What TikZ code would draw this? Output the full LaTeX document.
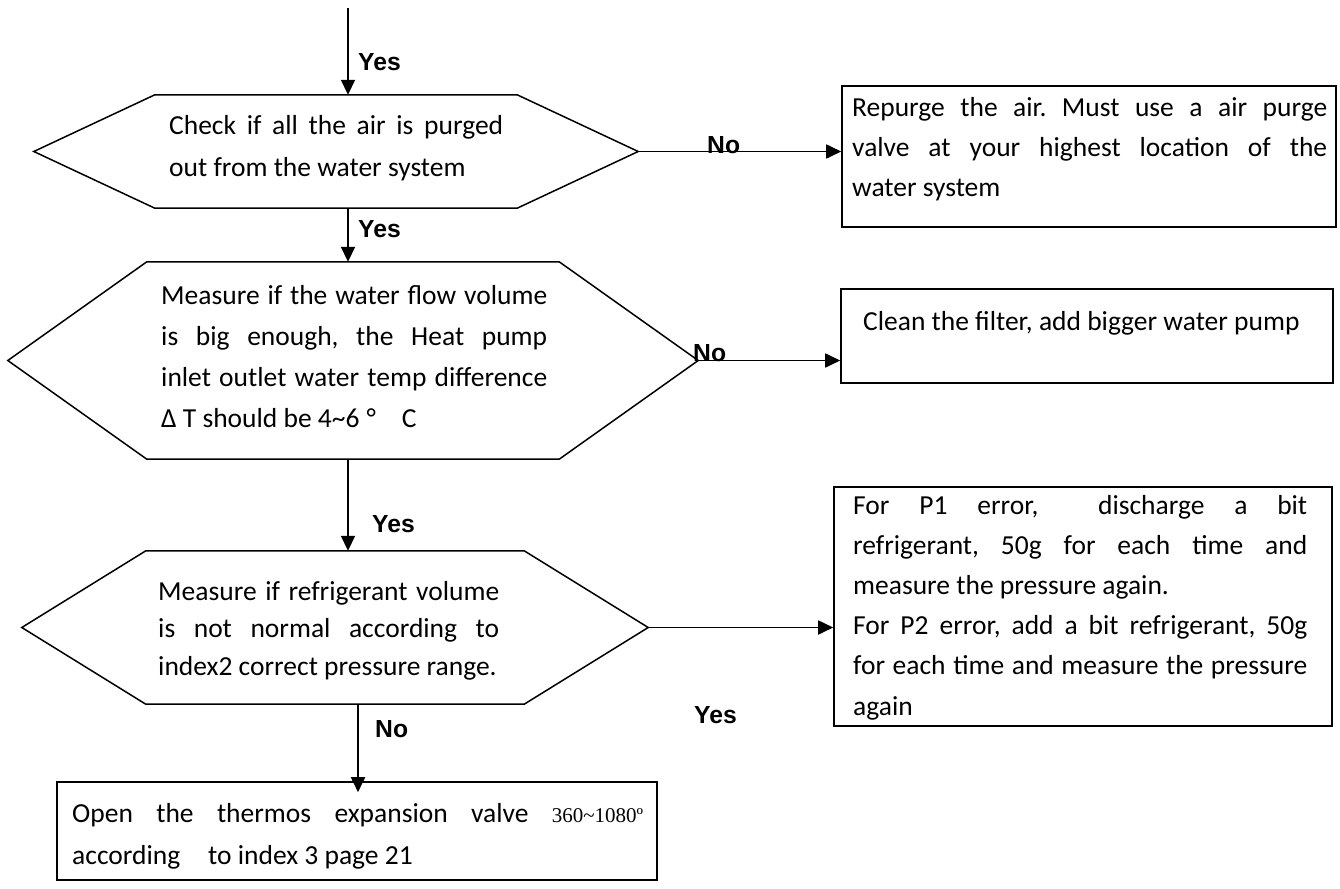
\documentclass[tikz,border=0pt]{standalone}
\usepackage{fontspec}
\setmainfont{Carlito}
\newfontfamily\labfont{Liberation Sans}
\newfontfamily\tnrfont{Liberation Serif}
\usetikzlibrary{arrows.meta,calc}
\pgfdeclarelayer{hidden}
\pgfdeclarelayer{shapes}
\pgfsetlayers{hidden,shapes,main}
\frenchspacing
\newcommand{\bodyfont}[1]{\fontsize{27.5pt}{#1pt}\selectfont}
\newcommand{\drawhex}[2]{\draw[hexline] (#1.west) -- ($(#1.north west)+(#2,0)$) -- ($(#1.north east)+(-#2,0)$) -- (#1.east) -- ($(#1.south east)+(-#2,0)$) -- ($(#1.south west)+(#2,0)$) -- cycle;}
\begin{document}
\begin{tikzpicture}[x=1pt,y=-1pt,
  hexline/.style={draw=black, fill=white, line width=1.5pt, line join=miter},
  frame/.style={draw=black, line width=1.6pt, inner sep=0pt},
  region/.style={inner sep=0pt},
  txt/.style={inner sep=0pt, anchor=base west},
  lab/.style={inner sep=0pt, anchor=base west, font=\labfont\bfseries\fontsize{24.7pt}{28pt}\selectfont},
  arr/.style={line width=1.8pt, -{Triangle[length=15pt,width=14pt]}}
]
\begin{pgfonlayer}{hidden}
\path[fill=white] (0,0) rectangle (1340,888);
\end{pgfonlayer}
\path[use as bounding box] (0,0) rectangle (1340,888);

% decision regions (hexagons)
\node[region, minimum width=604pt, minimum height=113pt] (h1) at (336,151.5) {};
\node[region, minimum width=690pt, minimum height=197pt] (h2) at (353,360.5) {};
\node[region, minimum width=626pt, minimum height=153pt] (h3) at (335,627.5) {};

% boxes
\node[frame, minimum width=494pt, minimum height=141pt] (b1) at (1089,156.5) {};
\node[frame, minimum width=492pt, minimum height=94pt] (b2) at (1087,336) {};
\node[frame, minimum width=498pt, minimum height=239pt] (b3) at (1083,606.5) {};
\node[frame, minimum width=600pt, minimum height=98pt] (b4) at (357,831) {};

\begin{pgfonlayer}{hidden}
\node[lab] (nohid) at (358,111) {No};
\end{pgfonlayer}
\begin{pgfonlayer}{shapes}
\drawhex{h1}{121}
\drawhex{h2}{139}
\drawhex{h3}{124}
\end{pgfonlayer}

% texts
\node[txt] (t1) at (169,135) {\parbox[t]{334pt}{\bodyfont{42}Check if all the air is purged\linebreak out from the water system}};
\node[txt] (t2) at (161,304) {\parbox[t]{386pt}{\bodyfont{41}Measure if the water flow volume\linebreak is big enough, the Heat pump\linebreak inlet outlet water temp difference\linebreak Δ T should be 4\textasciitilde6\hspace{7pt}°\hspace{26pt}C}};
\node[txt] (t3) at (158,600) {\parbox[t]{341pt}{\bodyfont{37.5}Measure if refrigerant volume\linebreak is not normal according to\linebreak index2 correct pressure range.}};
\node[txt] (tb1) at (852,117) {\parbox[t]{475pt}{\bodyfont{40}Repurge the air. Must use a air purge\linebreak valve at your highest location of the\linebreak water system}};
\node[txt] (tb2) at (863,330) {\bodyfont{40}Clean the filter, add bigger water pump};
\node[txt] (tb3) at (853,514) {\parbox[t]{454pt}{\bodyfont{40.2}For P1 error, \ discharge a bit\linebreak refrigerant, 50g for each time and\linebreak measure the pressure again.\par For P2 error, add a bit refrigerant, 50g\linebreak for each time and measure the pressure\linebreak again}};
\node[txt] (tb4) at (72,822) {\parbox[t]{571pt}{\bodyfont{42}Open the thermos expansion valve {\tnrfont\fontsize{21pt}{42pt}\selectfont 360\textasciitilde1080º}\linebreak according\hspace{28pt}to index 3 page 21}};

% connectors
\coordinate (ax1) at (348,0);
\coordinate (ax4) at (358,0);
\coordinate (start) at (348,8);
\draw[arr] (start) -- (start |- h1.north);
\draw[arr] (h1.south -| ax1) -- (h2.north -| ax1);
\draw[arr] (h2.south -| ax1) -- (h3.north -| ax1);
\draw[arr] (h3.south -| ax4) -- ($(b4.north -| ax4)+(0,11)$);
\draw[arr] (h1.east) -- (h1.east -| b1.west);
\draw[arr] (h2.east) -- (h2.east -| b2.west);
\draw[arr] (h3.east) -- (h3.east -| b3.west);

% labels
\node[lab] (yes1) at (358,71) {Yes};
\node[lab] (yes2) at (358,237) {Yes};
\node[lab] (yes3) at (372,532) {Yes};
\node[lab] (no4) at (375,737) {No};
\node[lab] (no1) at (707,153) {No};
\node[lab] (no2) at (693,361) {No};
\node[lab] (yes4) at (694,723) {Yes};
\end{tikzpicture}
\end{document}
